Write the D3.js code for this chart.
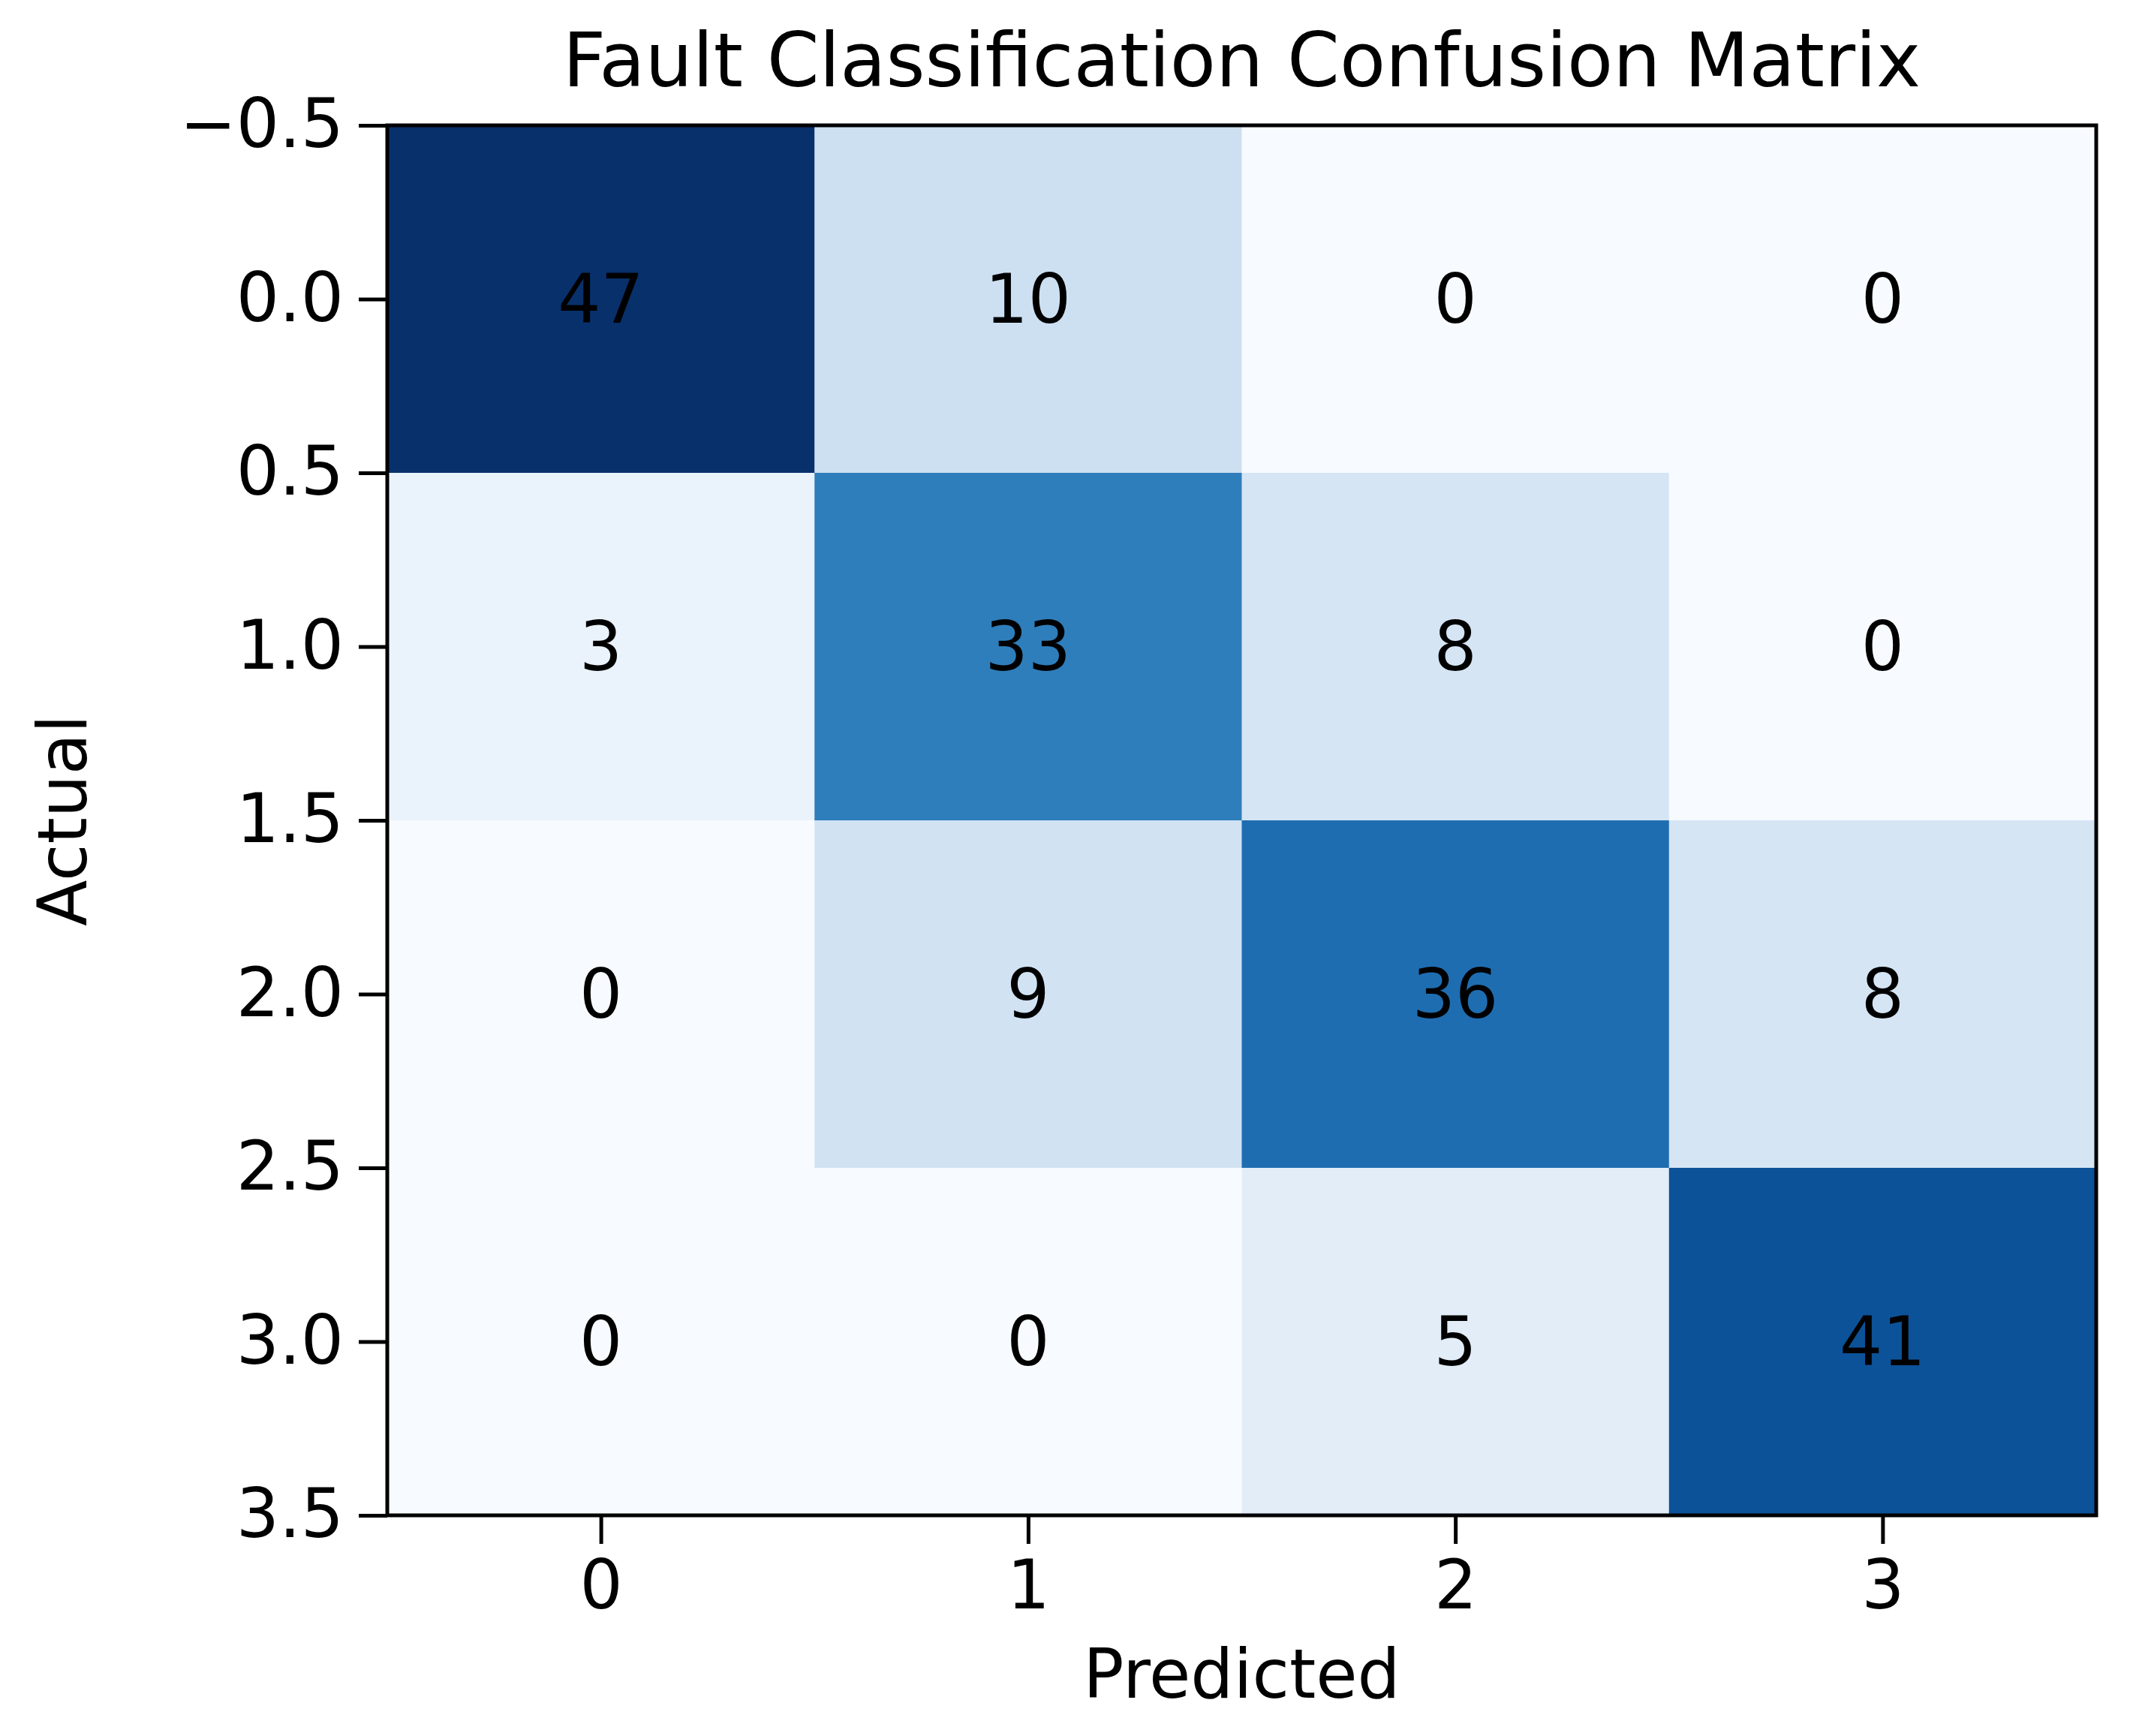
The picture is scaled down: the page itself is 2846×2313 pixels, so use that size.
<!DOCTYPE html>
<html><head><meta charset="utf-8">
<script src="https://cdn.jsdelivr.net/npm/d3@7"></script>
<style>body{margin:0;background:#fff}</style></head>
<body><svg id="c" width="2846" height="2313"></svg>
<script>
const classes = [0, 1, 2, 3];
const matrix = [
  [47, 10, 0, 0],
  [3, 33, 8, 0],
  [0, 9, 36, 8],
  [0, 0, 5, 41]
];
const yTicks = [-0.5, 0.0, 0.5, 1.0, 1.5, 2.0, 2.5, 3.0, 3.5];
const xTicks = [0, 1, 2, 3];
const title = "Fault Classification Confusion Matrix";

const L = 516, R = 2793, T = 167, B = 2019;
const svg = d3.select("#c");
const font = "DejaVu Sans";
const x = d3.scaleLinear().domain([-0.5, 3.5]).range([L, R]);
const y = d3.scaleLinear().domain([-0.5, 3.5]).range([T, B]);
const blues = d3.interpolateRgbBasis(["#f7fbff","#deebf7","#c6dbef","#9ecae1","#6baed6","#4292c6","#2171b5","#08519c","#08306b"]);
const vmax = d3.max(matrix.flat());
const cells = [];
matrix.forEach((row, i) => row.forEach((v, j) => cells.push({i, j, v})));

svg.append("g").selectAll("rect").data(cells).join("rect")
  .attr("x", d => x(d.j - 0.5)).attr("y", d => y(d.i - 0.5))
  .attr("width", x(1) - x(0) + 0.5).attr("height", y(1) - y(0) + 0.5)
  .attr("fill", d => blues(d.v / vmax));

svg.append("g").selectAll("text").data(cells).join("text")
  .attr("x", d => x(d.j)).attr("y", d => y(d.i))
  .attr("text-anchor", "middle").attr("dominant-baseline", "central")
  .attr("font-family", font).attr("font-size", 90).attr("fill", "#000")
  .text(d => d.v);

svg.append("rect").attr("x", L).attr("y", T).attr("width", R - L).attr("height", B - T)
  .attr("fill", "none").attr("stroke", "#000").attr("stroke-width", 5);

const fmt = d => (d < 0 ? "\u2212" : "") + Math.abs(d).toFixed(1);
const ya = svg.append("g").attr("transform", `translate(${L},0)`)
  .call(d3.axisLeft(y).tickValues(yTicks).tickFormat(fmt).tickSize(38).tickPadding(20));
const xa = svg.append("g").attr("transform", `translate(0,${B})`)
  .call(d3.axisBottom(x).tickValues(xTicks).tickFormat(d3.format("d")).tickSize(38).tickPadding(22));
[ya, xa].forEach(a => {
  a.select(".domain").remove();
  a.selectAll("line").attr("stroke", "#000").attr("stroke-width", 5);
  a.selectAll("text").attr("font-family", font).attr("font-size", 90).attr("fill", "#000");
});

svg.append("text").attr("x", (L + R) / 2).attr("y", 115).attr("text-anchor", "middle")
  .attr("font-family", font).attr("font-size", 100).text(title);
svg.append("text").attr("x", (L + R) / 2).attr("y", 2262).attr("text-anchor", "middle")
  .attr("font-family", font).attr("font-size", 90).text("Predicted");
svg.append("text").attr("transform", `translate(115,${(T + B) / 2}) rotate(-90)`).attr("text-anchor", "middle")
  .attr("font-family", font).attr("font-size", 90).text("Actual");
</script></body></html>
